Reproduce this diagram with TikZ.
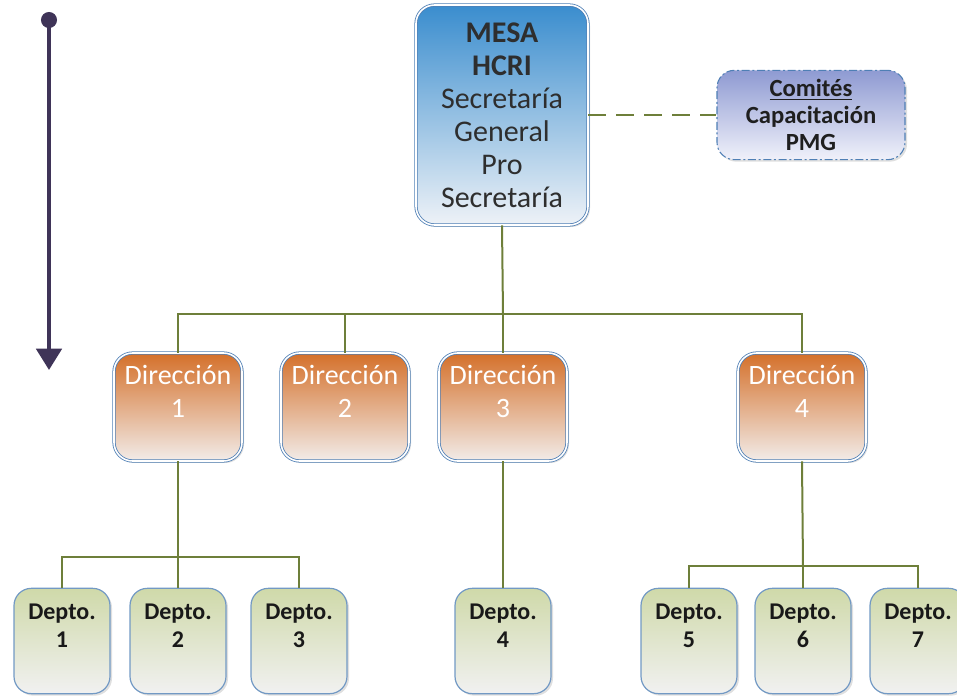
\documentclass[tikz,border=0pt]{standalone}
\usepackage{fontspec}
\setmainfont{Carlito}
\usepackage{xcolor}
\usetikzlibrary{arrows.meta,shadows}

\definecolor{lineolive}{HTML}{6E7F3A}
\definecolor{boxblue}{HTML}{4F7FB5}
\definecolor{mesatop}{HTML}{3A8DCE}
\definecolor{mesabot}{HTML}{EEF2F7}
\definecolor{dirtop}{HTML}{D4702A}
\definecolor{dirbot}{HTML}{F2ECE9}
\definecolor{deptotop}{HTML}{CFD9A9}
\definecolor{deptobot}{HTML}{F1F1F1}
\definecolor{comtop}{HTML}{8E9AD2}
\definecolor{combot}{HTML}{F0F1FA}
\definecolor{arrowpurple}{HTML}{3F3458}

\tikzset{
  conn/.style={draw=lineolive, line width=1.5pt},
  boxshadow/.style={drop shadow={opacity=0.25,shadow xshift=1.5pt,shadow yshift=-1.5pt}},
  mesabox/.style={rectangle, rounded corners=14pt, draw=boxblue, double=white,
    double distance=1.2pt, line width=0.6pt, top color=mesatop, bottom color=mesabot,
    minimum width=129pt, minimum height=165pt, align=center, text=black!82,
    font=\fontsize{22.5}{24.75}\selectfont, boxshadow},
  combox/.style={rectangle, rounded corners=13pt, draw=boxblue, line width=0.8pt,
    dash pattern=on 6pt off 2pt on 1.5pt off 2pt, top color=comtop, bottom color=combot,
    minimum width=141pt, minimum height=67pt, align=center, text=black!88,
    font=\bfseries\fontsize{18.5}{20}\selectfont, boxshadow},
  dirbox/.style={rectangle, rounded corners=14pt, draw=boxblue, double=white,
    double distance=1.2pt, line width=0.6pt, top color=dirtop, bottom color=dirbot,
    minimum width=96pt, minimum height=81pt, boxshadow},
  dirtext/.style={align=center, text=white, font=\fontsize{21}{24.75}\selectfont},
  deptobox/.style={rectangle, rounded corners=13pt, draw=boxblue!80, line width=0.9pt,
    top color=deptotop, bottom color=deptobot, minimum width=72pt, minimum height=79pt,
    boxshadow},
  deptotext/.style={align=center, text=black!90, font=\bfseries\fontsize{18}{21}\selectfont},
  dashlink/.style={draw=lineolive, line width=1.5pt, dash pattern=on 13pt off 8pt},
  timeline/.style={draw=arrowpurple, line width=3pt,
    {Circle[length=12pt]}-{Triangle[width=19pt,length=16pt]}}
}

\begin{document}
\begin{tikzpicture}[x=0.75pt,y=-0.75pt]
\useasboundingbox (0,0) rectangle (957,698);

% time arrow
\coordinate (arrtop) at (49,12);
\coordinate (arrbot) at (49,370);
\draw[timeline] (arrtop) -- (arrbot);

% top level
\node[mesabox] (mesa) at (502,115) {\textbf{MESA}\\\textbf{HCRI}\\Secretaría\\General\\Pro\\Secretaría};
\node[combox] (comites) at (811,115) {\underline{Comités}\\Capacitación\\PMG};
\draw[dashlink] (mesa.east) -- (comites.west);

% direcciones
\foreach \n/\x in {1/178,2/345,3/503,4/802}{
\node[dirbox] (d\n) at (\x,407) {};
\node[dirtext] (d\n t) at (\x,391) {Dirección\\\n};
}

\coordinate (bus) at (503,314);
\draw[conn] (mesa.south) -- (bus);
\draw[conn] (d1.north) |- (bus) -| (d4.north);
\draw[conn] (d2.north) -- (d2.north |- bus);
\draw[conn] (d3.north) -- (bus);

% deptos
\foreach \n/\x in {1/62,2/178,3/299,4/503,5/689,6/803,7/918}{
\node[deptobox] (p\n) at (\x,641) {};
\node[deptotext] (p\n t) at (\x,626) {Depto.\\\n};
}

\coordinate (bus1) at (178,557);
\draw[conn] (d1.south) -- (bus1);
\draw[conn] (p1.north) |- (bus1) -| (p3.north);
\draw[conn] (p2.north) -- (bus1);

\draw[conn] (d3.south) -- (p4.north);

\coordinate (bus4) at (803,566);
\draw[conn] (d4.south) -- (bus4);
\draw[conn] (p5.north) |- (bus4) -| (p7.north);
\draw[conn] (p6.north) -- (bus4);

\end{tikzpicture}
\end{document}
